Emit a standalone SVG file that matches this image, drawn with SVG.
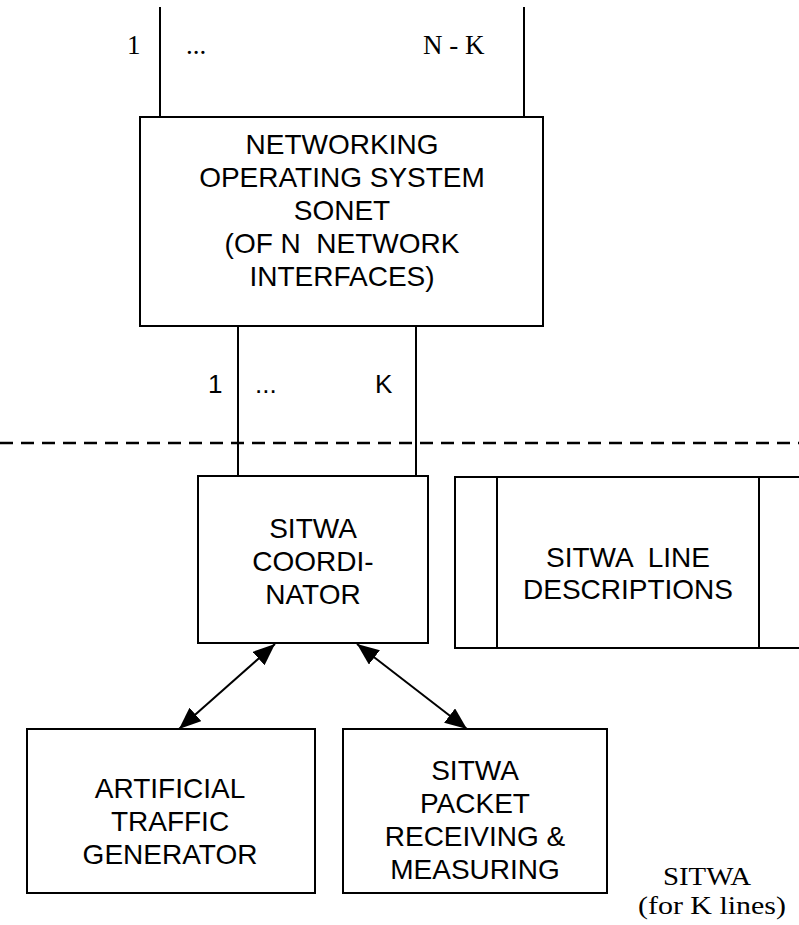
<svg xmlns="http://www.w3.org/2000/svg" width="799" height="925" viewBox="0 0 799 925">
<style>
.box{fill:#fff;stroke:#000;stroke-width:2}
.ln{stroke:#000;stroke-width:2;fill:none}
.dash{stroke:#000;stroke-width:2.5;stroke-dasharray:13 8;fill:none}
.arr{stroke:#000;stroke-width:2;fill:none;marker-start:url(#ah);marker-end:url(#ah)}
.s{font-family:"Liberation Sans",Arial,sans-serif;font-size:28px;fill:#000;text-anchor:middle}
.sl{font-family:"Liberation Sans",Arial,sans-serif;font-size:26px;fill:#000}
.r{font-family:"Liberation Serif","Times New Roman",serif;font-size:27px;fill:#000}
.rc{font-family:"Liberation Serif","Times New Roman",serif;font-size:25px;fill:#000;text-anchor:middle}
</style>
<defs>
<marker id="ah" viewBox="0 0 22 18" refX="22" refY="9" markerWidth="22" markerHeight="18" markerUnits="userSpaceOnUse" orient="auto-start-reverse">
<path d="M0,0 L22,9 L0,18 z" fill="#000"/>
</marker>
</defs>
<rect width="799" height="925" fill="#fff"/>

<g id="connectors">
<line class="ln" x1="160" y1="7" x2="160" y2="117"/>
<line class="ln" x1="524" y1="7" x2="524" y2="117"/>
<line class="ln" x1="238" y1="326" x2="238" y2="476"/>
<line class="ln" x1="416" y1="326" x2="416" y2="476"/>
<line class="dash" x1="0" y1="443" x2="799" y2="443"/>
<line class="arr" x1="275" y1="644" x2="179" y2="729"/>
<line class="arr" x1="357" y1="644" x2="467" y2="729"/>
</g>

<g id="top-labels">
<text class="r" x="127" y="54">1</text>
<text class="r" x="186" y="54">...</text>
<text class="r" x="423" y="54">N - K</text>
</g>

<g id="mid-labels">
<text class="sl" x="208" y="393">1</text>
<text class="sl" x="255" y="393">...</text>
<text class="sl" x="375" y="393">K</text>
</g>

<g id="nos">
<rect class="box" x="140" y="117" width="403" height="209"/>
<text class="s" x="342" y="154">NETWORKING</text>
<text class="s" x="342" y="187">OPERATING SYSTEM</text>
<text class="s" x="342" y="220">SONET</text>
<text class="s" x="342" y="253" xml:space="preserve">(OF N  NETWORK</text>
<text class="s" x="342" y="286">INTERFACES)</text>
</g>

<g id="coordinator">
<rect class="box" x="198" y="476" width="230" height="167"/>
<text class="s" x="313" y="538">SITWA</text>
<text class="s" x="313" y="571">COORDI-</text>
<text class="s" x="313" y="604">NATOR</text>
</g>

<g id="line-descriptions">
<rect class="box" x="455" y="477" width="360" height="171"/>
<line class="ln" x1="497" y1="477" x2="497" y2="648"/>
<line class="ln" x1="759" y1="477" x2="759" y2="648"/>
<text class="s" x="628" y="567" xml:space="preserve">SITWA  LINE</text>
<text class="s" x="628" y="599">DESCRIPTIONS</text>
</g>

<g id="traffic-generator">
<rect class="box" x="27" y="729" width="288" height="164"/>
<text class="s" x="170" y="798">ARTIFICIAL</text>
<text class="s" x="170" y="831">TRAFFIC</text>
<text class="s" x="170" y="864">GENERATOR</text>
</g>

<g id="packet-receiving">
<rect class="box" x="343" y="729" width="264" height="164"/>
<text class="s" x="475" y="780">SITWA</text>
<text class="s" x="475" y="813">PACKET</text>
<text class="s" x="475" y="846">RECEIVING &amp;</text>
<text class="s" x="475" y="879">MEASURING</text>
</g>

<g id="sitwa-label">
<text class="rc" x="707" y="885" textLength="88" lengthAdjust="spacingAndGlyphs">SITWA</text>
<text class="rc" x="712" y="914" textLength="148" lengthAdjust="spacingAndGlyphs">(for K lines)</text>
</g>
</svg>
